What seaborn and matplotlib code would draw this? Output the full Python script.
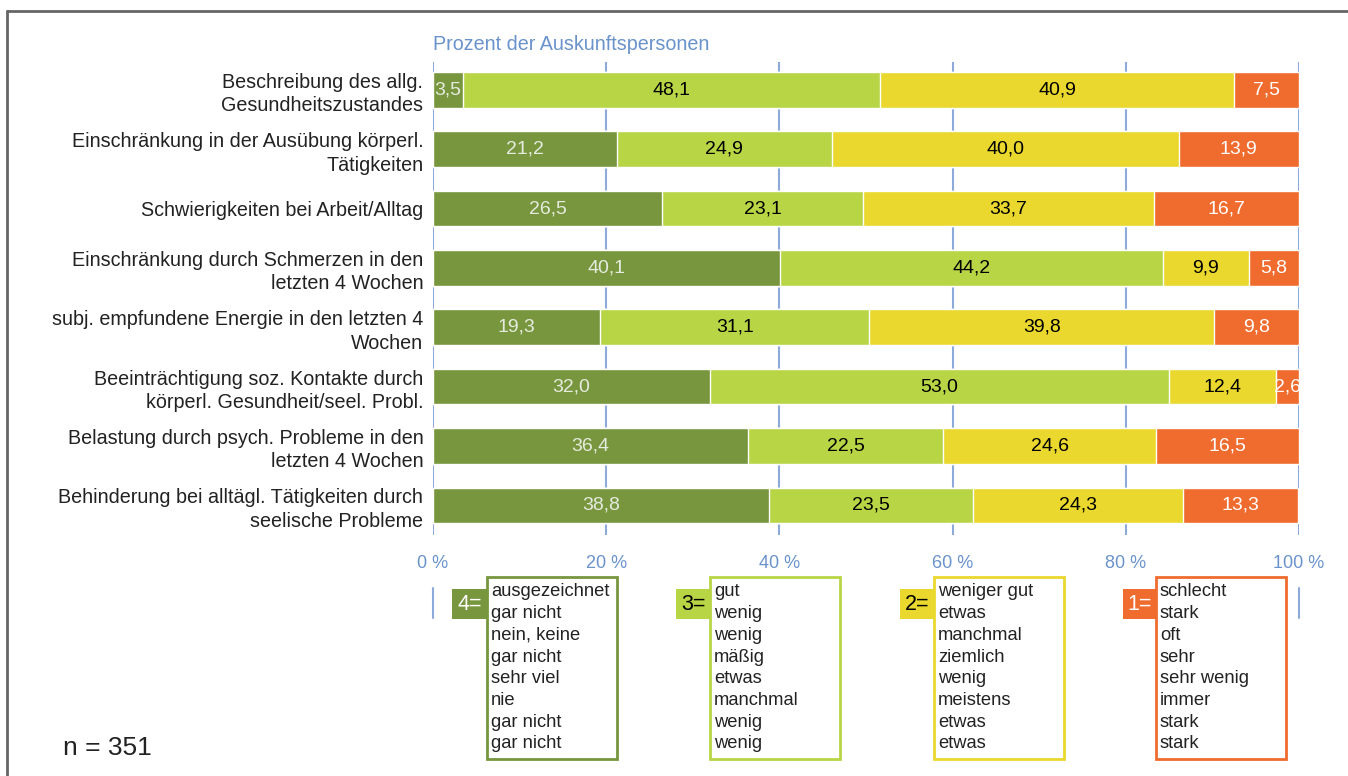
import numpy as np
import pandas as pd
import matplotlib
matplotlib.use("Agg")
import matplotlib.pyplot as plt
from matplotlib.lines import Line2D
from matplotlib.patches import Rectangle
import seaborn as sns

# Daten
items = [
    "Beschreibung des allg.\nGesundheitszustandes",
    "Einschränkung in der Ausübung körperl.\nTätigkeiten",
    "Schwierigkeiten bei Arbeit/Alltag",
    "Einschränkung durch Schmerzen in den\nletzten 4 Wochen",
    "subj. empfundene Energie in den letzten 4\nWochen",
    "Beeinträchtigung soz. Kontakte durch\nkörperl. Gesundheit/seel. Probl.",
    "Belastung durch psych. Probleme in den\nletzten 4 Wochen",
    "Behinderung bei alltägl. Tätigkeiten durch\nseelische Probleme",
]
wert4 = [3.5, 21.2, 26.5, 40.1, 19.3, 32.0, 36.4, 38.8]
wert3 = [48.1, 24.9, 23.1, 44.2, 31.1, 53.0, 22.5, 23.5]
wert2 = [40.9, 40.0, 33.7, 9.9, 39.8, 12.4, 24.6, 24.3]
wert1 = [7.5, 13.9, 16.7, 5.8, 9.8, 2.6, 16.5, 13.3]

stufen = ["4=", "3=", "2=", "1="]
legende = [
    ["ausgezeichnet", "gar nicht", "nein, keine", "gar nicht", "sehr viel", "nie", "gar nicht", "gar nicht"],
    ["gut", "wenig", "wenig", "mäßig", "etwas", "manchmal", "wenig", "wenig"],
    ["weniger gut", "etwas", "manchmal", "ziemlich", "wenig", "meistens", "etwas", "etwas"],
    ["schlecht", "stark", "oft", "sehr", "sehr wenig", "immer", "stark", "stark"],
]
xticks = [0, 20, 40, 60, 80, 100]

farben = ["#77963D", "#B8D546", "#EAD82E", "#F06B2E"]
textfarben = ["#E6EBDF", "black", "black", "white"]
blau = "#8EAADB"
blau_text = "#6A93CC"

sns.set_style("white")
plt.rcParams["font.family"] = ["Liberation Sans", "DejaVu Sans"]

W, H = 1348, 776
fig = plt.figure(figsize=(W / 100, H / 100), dpi=100)

def fx(px):
    return px / W

def fy(py):
    return 1 - py / H

ax = fig.add_axes([fx(433), fy(535), fx(1299) - fx(433), fy(62) - fy(535)])

df = pd.DataFrame({"item": items, "w4": wert4, "w3": wert3, "w2": wert2, "w1": wert1})
werte = [df["w4"], df["w3"], df["w2"], df["w1"]]
kum = np.cumsum(np.array(werte), axis=0)

# gestapelte Balken: von der Gesamtsumme rückwärts übereinander zeichnen
for i in range(3, -1, -1):
    sns.barplot(x=kum[i], y=df["item"], orient="y", color=farben[i],
                width=0.6, saturation=1, ax=ax, zorder=2)

for i in range(4):
    start = kum[i] - np.array(werte[i])
    for j in range(len(items)):
        v = werte[i][j]
        ax.text(start[j] + v / 2, j, f"{v:.1f}".replace(".", ","),
                ha="center", va="center", fontsize=14,
                color=textfarben[i], zorder=3, clip_on=True)

ax.set_xlim(0, 100)
ax.set_ylim(7.5, -0.47)
ax.set_xlabel("")
ax.set_ylabel("")
ax.set_xticks(xticks)
ax.set_xticklabels([])
for t in xticks:
    ax.axvline(t, color=blau, lw=1.5, zorder=1)
for s in ax.spines.values():
    s.set_visible(False)
ax.tick_params(axis="y", length=0, pad=7, labelsize=14.2, labelcolor="#222222")
ax.tick_params(axis="x", length=0)
for lab in ax.get_yticklabels():
    lab.set_linespacing(1.3)

# Prozentwerte unter der Achse
for t in xticks:
    fig.text(fx(433 + t * 8.66), fy(563), f"{t} %", ha="center", va="center",
             fontsize=13, color=blau_text)

fig.text(fx(433), fy(44), "Prozent der Auskunftspersonen", ha="left", va="center",
         fontsize=14.2, color=blau_text)

# kurze Linien neben der Legende
for x in [433, 1299]:
    fig.add_artist(Line2D([fx(x), fx(x)], [fy(588), fy(618)], color=blau, lw=1.5))

# Legende
patch_x = [452, 676, 900, 1123]
box_x = [487, 710, 934, 1156]
box_w = 130
for i in range(4):
    fig.add_artist(Rectangle((fx(patch_x[i]), fy(619)), fx(box_x[i] - patch_x[i]), fy(589) - fy(619),
                             transform=fig.transFigure, facecolor=farben[i], edgecolor="none"))
    fig.text(fx((patch_x[i] + box_x[i]) / 2), fy(605), stufen[i], ha="center", va="center",
             fontsize=15.5, color=textfarben[i] if i != 0 else "white")
    fig.add_artist(Rectangle((fx(box_x[i]), fy(759)), fx(box_w), fy(577) - fy(759),
                             transform=fig.transFigure, facecolor="white", edgecolor=farben[i], lw=2))
    for k, txt in enumerate(legende[i]):
        fig.text(fx(box_x[i] + 4), fy(592 + k * 21.7), txt, ha="left", va="center",
                 fontsize=13.2, color="#222222")

fig.text(fx(63), fy(748), "n = 351", ha="left", va="center", fontsize=19, color="#222222")

# Rahmen oben und links
fig.add_artist(Line2D([fx(7), fx(7)], [fy(11), 0], color="#666666", lw=2))
fig.add_artist(Line2D([fx(7), 1], [fy(11), fy(11)], color="#666666", lw=2))

fig.savefig("out.png", dpi=100)
